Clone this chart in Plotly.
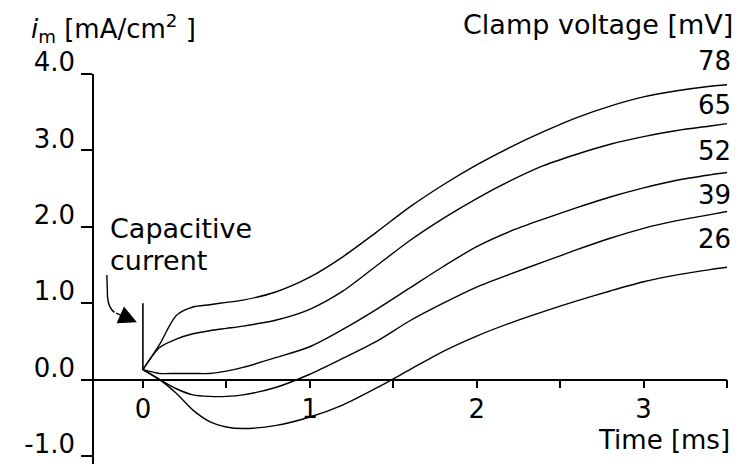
import plotly.graph_objects as go

# ---- data ----
time_ms = [0, 0.1, 0.2, 0.3, 0.4, 0.5, 0.6, 0.8, 1.0, 1.2, 1.4, 1.6, 1.8, 2.0,
           2.2, 2.4, 2.6, 2.8, 3.0, 3.2, 3.4, 3.5]
i_78 = [0.13, 0.46, 0.84, 0.95, 0.98, 1.01, 1.04, 1.15, 1.34, 1.61, 1.93, 2.26,
        2.55, 2.81, 3.04, 3.245, 3.43, 3.58, 3.70, 3.78, 3.84, 3.86]
i_65 = [0.13, 0.42, 0.53, 0.60, 0.64, 0.67, 0.70, 0.78, 0.92, 1.16, 1.49, 1.82,
        2.11, 2.37, 2.60, 2.80, 2.95, 3.08, 3.18, 3.26, 3.32, 3.35]
i_52 = [0.13, 0.08, 0.08, 0.08, 0.08, 0.11, 0.16, 0.29, 0.43, 0.66, 0.92, 1.20,
        1.48, 1.74, 1.94, 2.10, 2.25, 2.39, 2.51, 2.61, 2.68, 2.71]
i_39 = [0.13, 0.00, -0.12, -0.20, -0.22, -0.22, -0.20, -0.10, 0.07, 0.28, 0.50,
        0.77, 1.00, 1.21, 1.38, 1.54, 1.70, 1.85, 1.98, 2.08, 2.16, 2.20]
i_26 = [0.13, 0.00, -0.18, -0.40, -0.55, -0.62, -0.64, -0.60, -0.49, -0.33, -0.11,
        0.13, 0.37, 0.57, 0.74, 0.89, 1.03, 1.16, 1.28, 1.37, 1.44, 1.47]
series = [i_78, i_65, i_52, i_39, i_26]
clamp_labels = ["78", "65", "52", "39", "26"]

cap_time = [0, 0]
cap_current = [0.125, 1.0]

x_ticks = [0, 1, 2, 3]
y_ticks = [-1.0, 0.0, 1.0, 2.0, 3.0, 4.0]
y_tick_text = ["-1.0", "0.0", "1.0", "2.0", "3.0", "4.0"]

# ---- layout constants ----
FONT = "DejaVu Sans"
FS = 26
X_RANGE = [-0.293, 3.50]
Y_RANGE = [-1.105, 4.0]
label_paper_y = [1.0333, 0.9205, 0.8026, 0.6897, 0.5769]

fig = go.Figure()
for vals in series:
    fig.add_trace(go.Scatter(x=time_ms, y=vals, mode="lines",
                             line=dict(color="black", width=1.4, shape="spline", smoothing=0.8),
                             showlegend=False, hoverinfo="skip"))
fig.add_trace(go.Scatter(x=cap_time, y=cap_current, mode="lines",
                         line=dict(color="black", width=1.6),
                         showlegend=False, hoverinfo="skip"))

xpos = (0 - Y_RANGE[0]) / (Y_RANGE[1] - Y_RANGE[0])

fig.update_layout(
    width=744, height=464,
    margin=dict(l=94, r=17, t=74, b=0),
    paper_bgcolor="white", plot_bgcolor="white",
    font=dict(family=FONT, size=FS, color="black"),
    xaxis=dict(range=X_RANGE, anchor="free", position=xpos, showline=True,
               linecolor="black", linewidth=1.6, showgrid=False, zeroline=False,
               ticks="outside", ticklen=8, tickwidth=1.6, tickcolor="black",
               tickvals=x_ticks, ticktext=[str(v) for v in x_ticks],
               ticklabelstandoff=-2,
               minor=dict(dtick=0.5, tick0=0, ticks="outside", ticklen=8, tickwidth=1.6,
                          tickcolor="black", showgrid=False),
               tickfont=dict(family=FONT, size=FS, color="black")),
    yaxis=dict(range=Y_RANGE, showline=True, linecolor="black", linewidth=1.6,
               showgrid=False, zeroline=False, ticks="outside", ticklen=11,
               tickwidth=1.6, tickcolor="black", tickvals=y_ticks, ticktext=y_tick_text,
               ticklabelshift=-12, ticklabelstandoff=1, ticklabeloverflow="allow",
               tickfont=dict(family=FONT, size=FS, color="black")),
)

ann = []
ann.append(dict(x=-0.102, y=1.1154, xref="paper", yref="paper", xanchor="left", yanchor="middle",
                text="<i>i</i><sub>m</sub> [mA/cm<sup>2</sup> ]", showarrow=False,
                font=dict(family=FONT, size=26, color="black")))
ann.append(dict(x=1.0126, y=1.1282, xref="paper", yref="paper", xanchor="right", yanchor="middle",
                text="Clamp voltage [mV]", showarrow=False,
                font=dict(family=FONT, size=27, color="black")))
for lab, ly in zip(clamp_labels, label_paper_y):
    ann.append(dict(x=1.0095, y=ly, xref="paper", yref="paper", xanchor="right", yanchor="middle",
                    text=lab, showarrow=False))
ann.append(dict(x=1.0079, y=0.0615, xref="paper", yref="paper", xanchor="right", yanchor="middle",
                text="Time [ms]", showarrow=False))
ann.append(dict(x=-0.212, y=1.98, xref="x", yref="y", xanchor="left", yanchor="middle",
                text="Capacitive", showarrow=False,
                font=dict(family=FONT, size=27, color="black")))
ann.append(dict(x=-0.212, y=1.56, xref="x", yref="y", xanchor="left", yanchor="middle",
                text="current", showarrow=False,
                font=dict(family=FONT, size=27, color="black")))
ann.append(dict(x=-0.036, y=0.75, xref="x", yref="y", ax=-0.17, ay=0.88,
                axref="x", ayref="y", text="", showarrow=True, arrowhead=2,
                arrowsize=2.6, arrowwidth=1.4, arrowcolor="black"))
fig.update_layout(annotations=ann)

fig.add_shape(type="path", xref="x", yref="y",
              path="M -0.216,1.37 L -0.212,1.08 Q -0.205,0.93 -0.17,0.88",
              line=dict(color="black", width=1.4))

fig.write_html("out.html")
